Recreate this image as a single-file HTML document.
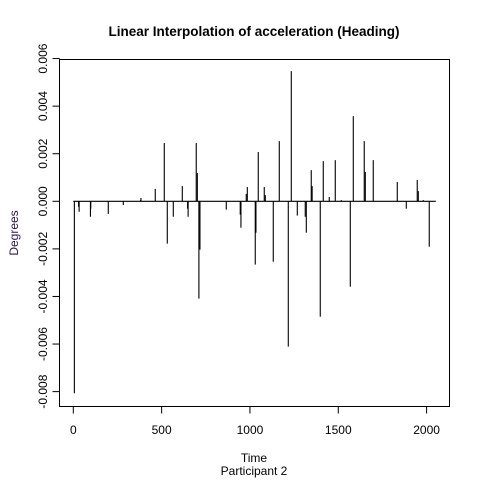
<!DOCTYPE html>
<html><head><meta charset="utf-8"><style>
body{margin:0;background:#fff}
svg text{font-family:"Liberation Sans",Arial,sans-serif;fill:#000}
</style></head><body>
<svg id="chart" width="480" height="480" xmlns="http://www.w3.org/2000/svg">
<rect x="0" y="0" width="480" height="480" fill="#fff"/>
<text x="254" y="36" text-anchor="middle" font-size="13.5" font-weight="bold">Linear Interpolation of acceleration (Heading)</text>
<rect x="59.5" y="59.5" width="390" height="347" fill="none" stroke="#000" stroke-width="1"/>
<g id="xaxis"></g>
<g id="yaxis"></g>
<g id="bars"></g>
<text x="254" y="462" text-anchor="middle" font-size="12">Time</text>
<text x="254" y="475" text-anchor="middle" font-size="12">Participant  2</text>
<text x="0" y="0" transform="translate(18,233) rotate(-90)" text-anchor="middle" font-size="12" style="fill:#2b1550">Degrees</text>
</svg>
<script>
const xTicks=[0,500,1000,1500,2000];
const yTicks=[-0.008,-0.006,-0.004,-0.002,0,0.002,0.004,0.006];
const yTickLabels=["-0.008","-0.006","-0.004","-0.002","0.000","0.002","0.004","0.006"];
const times=[6,30,33,97,99,198,283,381,383,464,515,532,566,617,647,650,696,702,711,717,866,945,949,979,985,1030,1034,1047,1081,1087,1132,1166,1217,1234,1268,1313,1319,1347,1352,1398,1415,1449,1483,1517,1568,1585,1647,1653,1698,1834,1885,1947,1953,1981,2015];
const values=[-0.00807,-0.00023,-0.00044,-0.00065,-0.00031,-0.00053,-0.00016,0.00005,0.00014,0.00052,0.00245,-0.00178,-0.00065,0.00064,-0.00031,-0.00065,0.00245,0.00119,-0.00409,-0.00203,-0.00035,-0.00056,-0.00111,0.00031,0.0006,-0.00266,-0.00132,0.00207,0.0006,0.00026,-0.00254,0.00253,-0.00611,0.00547,-0.0006,-0.00065,-0.00132,0.00131,0.00064,-0.00485,0.00169,0.00018,0.00173,0.00005,-0.00359,0.00358,0.00253,0.00123,0.00173,0.00081,-0.00031,0.0009,0.00043,0.00005,-0.00191];
const lineStart=0, lineEnd=2052;
const NS="http://www.w3.org/2000/svg";
function sx(v){return 73.3+v*0.17665;}
function sy(v){return 201.3-v*23790;}
function mk(tag,attrs,parent){const e=document.createElementNS(NS,tag);for(const k in attrs)e.setAttribute(k,attrs[k]);parent.appendChild(e);return e;}
const xa=document.getElementById('xaxis'),ya=document.getElementById('yaxis'),bg=document.getElementById('bars');
mk('line',{x1:sx(xTicks[0]),x2:sx(xTicks[xTicks.length-1]),y1:406.5,y2:406.5,stroke:'#000'},xa);
xTicks.forEach(t=>{
  const l=mk('line',{x1:sx(t),x2:sx(t),y1:406.5,y2:413.5,stroke:'#000'},xa);
  
  
  const tx=mk('text',{x:sx(t),y:434,'text-anchor':'middle','font-size':'12'},xa);
  tx.textContent=t;
  
  
});
mk('line',{x1:59.5,x2:59.5,y1:sy(yTicks[0]),y2:sy(yTicks[yTicks.length-1]),stroke:'#000'},ya);
yTicks.forEach((t,i)=>{
  const l=mk('line',{x1:52.5,x2:59.5,y1:sy(t),y2:sy(t),stroke:'#000'},ya);
  
  
  const tx=mk('text',{x:0,y:0,transform:`translate(47,${sy(t)}) rotate(-90)`,'text-anchor':'middle','font-size':'12'},ya);
  tx.textContent=yTickLabels[i];
  
  
});
const zl=mk('line',{x1:sx(lineStart),x2:sx(lineEnd),y1:sy(0),y2:sy(0),stroke:'#000','stroke-width':1.2},bg);


times.forEach((t,i)=>{
  const b=mk('line',{x1:sx(t),x2:sx(t),y1:sy(0),y2:sy(values[i]),stroke:'#000','stroke-width':1.1},bg);
  
  
});
</script>
</body></html>
